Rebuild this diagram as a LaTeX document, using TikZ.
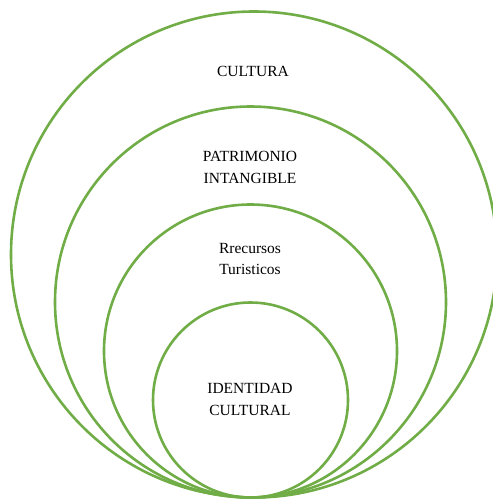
\documentclass[tikz,border=0pt]{standalone}
\usepackage{fontspec}
\setmainfont{Liberation Serif}
\newfontfamily\tnrfont{Liberation Serif}
\definecolor{ring}{RGB}{112,173,71}
\begin{document}
\begin{tikzpicture}[x=1pt,y=1pt,
  ringline/.style={draw=ring,line width=2.6pt},
  lbl/.style={align=center,font=\tnrfont\fontsize{15.5}{21.5}\selectfont,text=black,inner sep=0pt}]
\useasboundingbox (0,0) rectangle (493,-499);
\path[clip] (0,0) rectangle (493,-499);
\draw[ringline] (254,-254.5) circle (243);
\draw[ringline] (250.5,-302) circle (195.5);
\draw[ringline] (250.5,-351) circle (146.5);
\draw[ringline] (250.5,-400) circle (97.5);
\node[lbl] (cultura) at (253,-71) {CULTURA};
\node[lbl] (patrimonio) at (250,-167.5) {PATRIMONIO\\INTANGIBLE};
\node[lbl] (recursos) at (250,-259) {Rrecursos\\Turisticos};
\node[lbl] (identidad) at (250,-399.5) {IDENTIDAD\\CULTURAL};
\end{tikzpicture}
\end{document}
